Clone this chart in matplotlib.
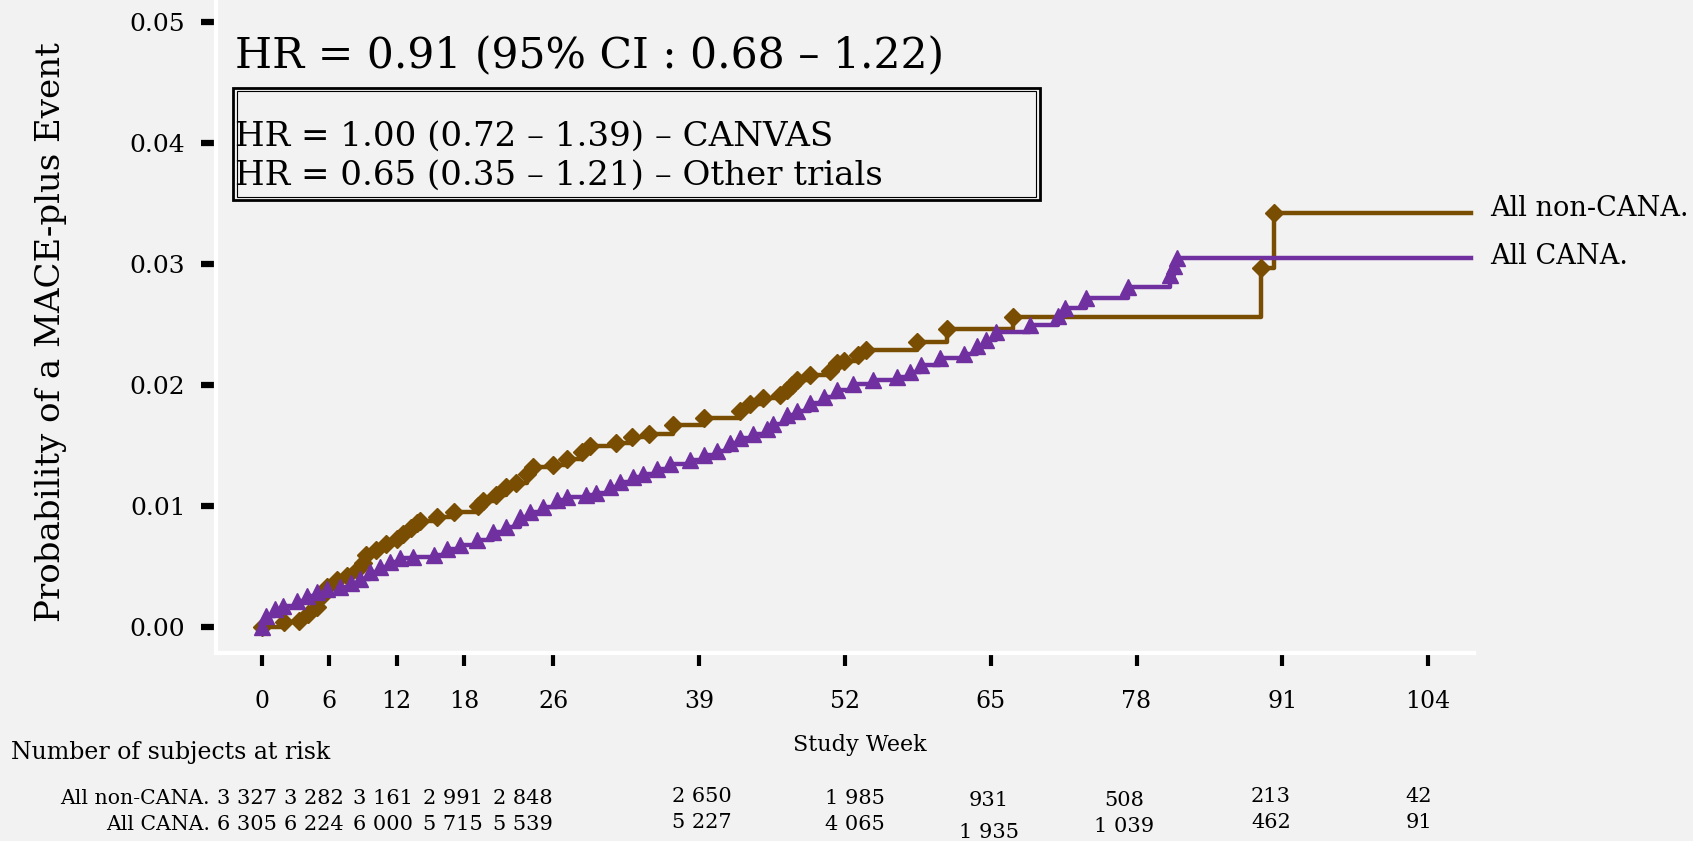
import numpy as np
import matplotlib
matplotlib.use("Agg")
from matplotlib import pyplot as plt
from matplotlib.patches import Rectangle

plt.rcParams['font.family'] = ['DejaVu Serif']

# cumulative incidence at each event (week, probability)
non_cana_weeks = [0, 2.0, 3.3, 4.1, 4.9, 5.3, 5.8, 6.7, 7.6, 8.5, 9.0, 9.3, 10.2, 11.1, 12.0,
                  12.6, 13.3, 13.8, 14.1, 15.6, 17.1, 19.3, 19.7, 20.9, 21.8, 22.7, 23.6,
                  24.2, 26.0, 27.2, 28.5, 29.3, 31.6, 33.0, 34.5, 36.7, 39.4, 42.6, 43.5,
                  44.7, 46.2, 46.8, 47.3, 47.7, 48.9, 50.7, 51.3, 51.9, 53.2, 53.9, 58.4,
                  61.1, 67.0, 89.1, 90.3]
non_cana_prob = [0, 0.0004, 0.0005, 0.0011, 0.0017, 0.0025, 0.0033, 0.0039, 0.0042, 0.0047,
                 0.0053, 0.0060, 0.0064, 0.0069, 0.0073, 0.0077, 0.0082, 0.0086, 0.0088,
                 0.0091, 0.0095, 0.0100, 0.0104, 0.0109, 0.0116, 0.0119, 0.0127, 0.0132,
                 0.0134, 0.0139, 0.0145, 0.0150, 0.0152, 0.0157, 0.0160, 0.0167, 0.0173,
                 0.0179, 0.0184, 0.0189, 0.0192, 0.0196, 0.0200, 0.0204, 0.0208, 0.0212,
                 0.0218, 0.0220, 0.0225, 0.0229, 0.0236, 0.0246, 0.0256, 0.0297, 0.0342]

cana_weeks = [0, 0.4, 1.2, 1.9, 3.1, 4.0, 4.9, 5.8, 7.0, 7.9, 8.7, 9.6, 10.5, 11.4, 12.3,
              13.5, 15.3, 16.5, 17.7, 19.2, 20.6, 21.8, 23.0, 23.9, 25.1, 26.3, 27.2, 28.9,
              29.8, 31.0, 31.9, 33.1, 34.0, 35.2, 36.4, 38.2, 39.4, 40.6, 41.7, 42.6, 43.8,
              45.0, 45.6, 46.8, 47.7, 48.9, 50.1, 51.3, 52.7, 54.5, 56.6, 57.8, 58.8, 60.5,
              62.6, 63.8, 64.6, 65.5, 68.5, 71.0, 71.6, 73.5, 77.2, 81.0, 81.3, 81.6]
cana_prob = [0, 0.0009, 0.0015, 0.0018, 0.0022, 0.0026, 0.0029, 0.0032, 0.0033, 0.0037,
             0.0040, 0.0046, 0.0050, 0.0054, 0.0057, 0.0058, 0.0060, 0.0065, 0.0068, 0.0072,
             0.0079, 0.0083, 0.0091, 0.0095, 0.0099, 0.0105, 0.0108, 0.0109, 0.0111, 0.0116,
             0.0120, 0.0124, 0.0127, 0.0131, 0.0135, 0.0138, 0.0142, 0.0146, 0.0152, 0.0156,
             0.0160, 0.0164, 0.0168, 0.0175, 0.0179, 0.0185, 0.0190, 0.0196, 0.0201, 0.0204,
             0.0207, 0.0211, 0.0217, 0.0222, 0.0226, 0.0232, 0.0237, 0.0244, 0.0250, 0.0257,
             0.0264, 0.0272, 0.0281, 0.0291, 0.0298, 0.0305]

last_week = 107.8

week_ticks = [0, 6, 12, 18, 26, 39, 52, 65, 78, 91, 104]
prob_ticks = [0.00, 0.01, 0.02, 0.03, 0.04, 0.05]

at_risk_non_cana = ['3 327', '3 282', '3 161', '2 991', '2 848', '2 650', '1 985', '931', '508', '213', '42']
at_risk_cana = ['6 305', '6 224', '6 000', '5 715', '5 539', '5 227', '4 065', '1 935', '1 039', '462', '91']

hr_main = 'HR = 0.91 (95% CI : 0.68 \u2013 1.22)'
hr_sub = ['HR = 1.00 (0.72 \u2013 1.39) \u2013 CANVAS',
          'HR = 0.65 (0.35 \u2013 1.21) \u2013 Other trials']

brown = '#7a4e02'
purple = '#7030a0'
bg = '#f2f2f2'

W, H = 1693, 841
fig = plt.figure(figsize=(W / 100, H / 100), dpi=100, facecolor=bg)


def fx(x):
    return x / W


def fy(y):
    return 1 - y / H


ax = fig.add_axes([fx(216), fy(653), fx(1474) - fx(216), fy(0) - fy(653)])
ax.set_facecolor(bg)
ax.set_xlim(-4.1, 108.1)
ax.set_ylim(-0.00212, 0.0518)

for weeks, prob, col, mk, ms in [(non_cana_weeks, non_cana_prob, brown, 'D', 9.5),
                                 (cana_weeks, cana_prob, purple, '^', 11)]:
    ax.plot(weeks + [last_week], prob + [prob[-1]], drawstyle='steps-post',
            color=col, lw=3.2, zorder=3)
    ax.plot(weeks, prob, ls='none', marker=mk, ms=ms, color=col, zorder=4)

for s in ['top', 'right']:
    ax.spines[s].set_visible(False)
for s in ['left', 'bottom']:
    ax.spines[s].set_color('white')
    ax.spines[s].set_linewidth(3)

ax.set_xticks(week_ticks)
ax.set_xticklabels([str(w) for w in week_ticks])
ax.set_yticks(prob_ticks)
ax.set_yticklabels(['%.2f' % p for p in prob_ticks])
ax.tick_params(axis='y', length=11, width=4.5, pad=11, labelsize=18, direction='out')
ax.tick_params(axis='x', length=9, width=3, pad=18, labelsize=17, direction='out')

fig.text(fx(51), fy(332), 'Probability of a MACE-plus Event', rotation=90,
         ha='center', va='center', fontsize=24.5)

# hazard ratios
fig.text(fx(235), fy(56), hr_main, ha='left', va='center', fontsize=30.6)
fig.text(fx(235), fy(137), hr_sub[0], ha='left', va='center', fontsize=24.5)
fig.text(fx(235), fy(176), hr_sub[1], ha='left', va='center', fontsize=24.5)
for x0, y0, x1, y1, lw in [(233, 88, 1040, 200, 2.0), (237, 91, 1036, 197, 0.8)]:
    fig.add_artist(Rectangle((fx(x0), fy(y1)), fx(x1) - fx(x0), fy(y0) - fy(y1),
                             transform=fig.transFigure, fill=False,
                             edgecolor='black', lw=lw))

# curve labels
ax.annotate('All non-CANA.', (last_week, non_cana_prob[-1]), xytext=(14, 3),
            textcoords='offset points', ha='left', va='center', fontsize=19.5)
ax.annotate('All CANA.', (last_week, cana_prob[-1]), xytext=(14, 1),
            textcoords='offset points', ha='left', va='center', fontsize=19.5)

# number at risk table
fig.text(fx(860), fy(745), 'Study Week', ha='center', va='center', fontsize=16)
fig.text(fx(11), fy(752), 'Number of subjects at risk', ha='left', va='center', fontsize=17)
fig.text(fx(210), fy(799), 'All non-CANA.', ha='right', va='center', fontsize=14.7)
fig.text(fx(210), fy(824), 'All CANA.', ha='right', va='center', fontsize=14.7)

col_shift = [-1.35, -1.4, -1.2, -1.0, -2.7, 0.2, 0.9, -0.2, -1.1, -1.0, -0.8]
row1_dy = [0, 0, 0, 0, 0, -2, 0, 2, 2, -3, -3]
row2_dy = [0, 0, 0, 0, 0, -2, 0, 8, 2, -2, -2]
for i, w in enumerate(week_ticks):
    xpix = ax.transData.transform((w + col_shift[i], 0))[0]
    fig.text(xpix / W, fy(799 + row1_dy[i]), at_risk_non_cana[i], ha='center', va='center', fontsize=15)
    fig.text(xpix / W, fy(824 + row2_dy[i]), at_risk_cana[i], ha='center', va='center', fontsize=15)

fig.savefig('out.png', dpi=100, facecolor=bg)
